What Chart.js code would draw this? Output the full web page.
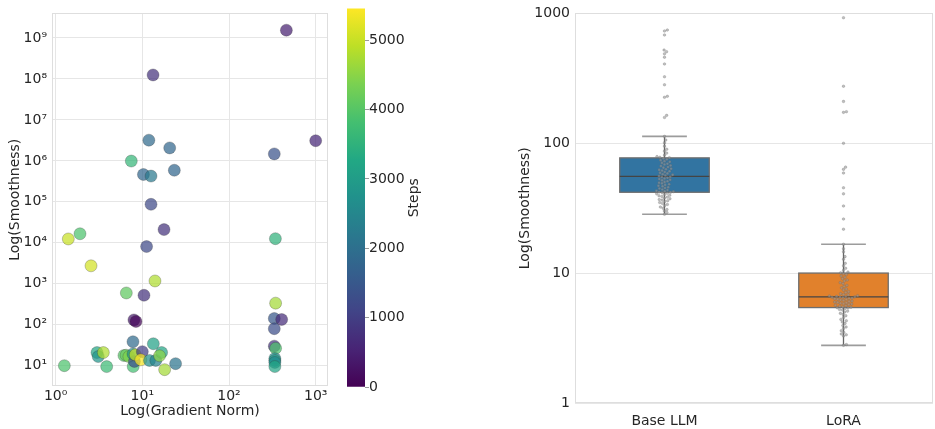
<!DOCTYPE html>
<html lang="en">
<head>
<meta charset="UTF-8">
<title>Smoothness vs gradient norm</title>
<script src="https://cdn.jsdelivr.net/npm/chart.js@4.4.1/dist/chart.umd.min.js"></script>
<style>
    body {
        margin: 0;
        background: #fff;
        width: 935px;
        height: 429px;
        overflow: hidden;
        position: relative;
    }
    canvas {
        position: absolute;
        top: 0;
    }
</style>
</head>
<body>
<canvas id="scatterChart" width="340" height="429" style="left:0px"></canvas>
<canvas id="colorbarChart" width="110" height="429" style="left:330px"></canvas>
<canvas id="boxChart" width="435" height="429" style="left:500px"></canvas>

<script>
    // scatter: gradient norm vs smoothness, coloured by training step
    const gradNorm = [459, 13.3, 1000, 11.9, 20.7, 333, 7.46, 10.3, 12.6, 23.4,
        12.6, 17.8, 1.40, 1.91, 11.2, 343, 2.56, 14.0, 6.54, 10.45,
        345, 333, 405, 333, 8.0, 8.45, 333, 345, 338, 338,
        338, 338, 1.26, 3.0, 3.1, 3.55, 3.88, 6.14, 6.5, 7.0,
        7.8, 7.85, 8.1, 7.8, 8.3, 10.0, 9.6, 12.1, 13.4, 14.3,
        16.7, 15.8, 18.1, 24.2];
    const smoothness = [1.55e9, 1.25e8, 3.1e6, 3.2e6, 2.07e6, 1.48e6, 9.9e5, 4.65e5, 4.25e5, 5.9e5,
        8.7e4, 2.1e4, 1.24e4, 1.66e4, 8.1e3, 1.26e4, 2.74e3, 1.17e3, 596, 524,
        336, 142, 134, 80, 131, 120, 30, 26.6, 15, 13.4,
        12, 9.5, 10, 20.9, 16.7, 20.9, 9.5, 17.7, 18, 16.7,
        38.4, 9.5, 12.7, 19.4, 18.4, 22, 13.9, 13.4, 34.3, 13.4,
        21, 17.4, 8.0, 11.2];
    const steps = [500, 800, 600, 1900, 1800, 1400, 3600, 1800, 2200, 1800,
        1200, 800, 5000, 3900, 1200, 3500, 5100, 4800, 4100, 800,
        4700, 1500, 700, 1300, 400, 100, 800, 3900, 2700, 2900,
        2600, 3200, 3900, 3200, 2800, 4800, 3700, 4000, 4200, 4400,
        1900, 3800, 1300, 2700, 5000, 1000, 5400, 2700, 3100, 2400,
        3200, 4500, 4700, 2100];
    const stepsMax = 5460;

    const gradTicks = [1, 10, 100, 1000];
    const smoothTicks = [10, 1e2, 1e3, 1e4, 1e5, 1e6, 1e7, 1e8, 1e9];
    const stepTicks = [0, 1000, 2000, 3000, 4000, 5000];

    // box + swarm: smoothness per model
    const groupLabels = ['Base LLM', 'LoRA'];
    const baseLLM = [745, 732, 682, 522, 507, 488, 460, 408, 325, 282, 230, 226, 164, 158,
        113, 106, 101, 95, 90, 87, 84, 81, 79, 78, 77.4,
        76.5, 75.2, 74.1, 72.8, 71.9, 70.6, 69.5, 68.7, 67.4, 66.8, 65.6, 64.9, 63.7, 63.1, 62.4,
        61.6, 60.9, 60.1, 59.2, 58.6, 57.8, 57.1, 56.4, 55.9, 55.3,
        54.9, 54.2, 53.6, 53.0, 52.3, 51.8, 51.0, 50.4, 49.7, 49.1, 48.3, 47.8, 47.1, 46.6, 45.9,
        45.2, 44.8, 44.1, 43.6, 43.1, 42.7, 42.4, 42.1, 41.9, 41.6,
        41.2, 40.8, 40.3, 39.8, 39.4, 38.9, 38.5, 37.9, 37.4, 36.9, 36.5, 36.1, 35.6, 35.0, 34.4,
        33.8, 33.1, 32.3, 31.6, 30.9, 30.1, 29.3, 28.4];
    const loRA = [926, 275, 210, 175, 173, 100, 65.5, 63, 59, 45.4, 40.8, 32.9, 26.1, 21.8,
        16.7, 15.4, 14.6, 13.4, 12.8, 11.9, 11.4, 10.9, 10.5, 10.2, 10.05,
        9.9, 9.75, 9.5, 9.3, 9.05, 8.85, 8.7, 8.45, 8.3, 8.05, 7.9, 7.7, 7.55, 7.4, 7.2,
        7.1, 6.95, 6.85, 6.8, 6.7, 6.66, 6.62, 6.6, 6.57, 6.55,
        6.52, 6.48, 6.44, 6.4, 6.35, 6.3, 6.26, 6.2, 6.15, 6.1, 6.05, 6.0, 5.95, 5.92, 5.86,
        5.82, 5.78, 5.72, 5.66, 5.61, 5.56, 5.5, 5.46, 5.42, 5.39,
        5.33, 5.25, 5.2, 5.1, 5.02, 4.9, 4.8, 4.7, 4.55, 4.4, 4.3, 4.2, 4.1, 3.95, 3.85,
        3.75, 3.6, 3.5, 3.4, 3.35, 3.28, 2.82, 2.78];
    const boxTicks = [1, 10, 100, 1000];
    const boxColors = ['#3274a1', '#e1812c'];

    const TEXT = '#262626';
    const GRID = '#e6e6e6';
    Chart.defaults.font.family = '"DejaVu Sans", sans-serif';
    Chart.defaults.font.size = 14;
    Chart.defaults.color = TEXT;

    const viridisStops = ['#440154', '#482475', '#414487', '#355f8d', '#2a788e', '#21918c',
        '#22a884', '#44bf70', '#7ad151', '#bddf26', '#fde725'];

    function hexRgb(h) {
        return [1, 3, 5].map(i => parseInt(h.substr(i, 2), 16));
    }

    function viridis(t, alpha) {
        t = Math.min(1, Math.max(0, t)) * (viridisStops.length - 1);
        const i = Math.min(Math.floor(t), viridisStops.length - 2);
        const f = t - i;
        const a = hexRgb(viridisStops[i]), b = hexRgb(viridisStops[i + 1]);
        const c = a.map((v, k) => Math.round(v + (b[k] - v) * f));
        return `rgba(${c[0]},${c[1]},${c[2]},${alpha})`;
    }

    const supDigits = { '0': '⁰', '1': '¹', '2': '²', '3': '³', '4': '⁴', '5': '⁵', '6': '⁶', '7': '⁷', '8': '⁸', '9': '⁹', '-': '⁻' };
    function powLabel(v) {
        const e = Math.round(Math.log10(v));
        return '10' + String(e).split('').map(c => supDigits[c]).join('');
    }

    // light frame round the plot area, like the seaborn spines
    const framePlugin = {
        id: 'frame',
        afterDatasetsDraw(chart) {
            const a = chart.chartArea;
            const ctx = chart.ctx;
            ctx.save();
            ctx.strokeStyle = '#dedede';
            ctx.lineWidth = 1;
            ctx.strokeRect(Math.round(a.left) + 0.5, Math.round(a.top) + 0.5,
                Math.round(a.right - a.left) - 1, Math.round(a.bottom - a.top) - 1);
            ctx.restore();
        }
    };

    // scatter chart
    new Chart(document.getElementById('scatterChart'), {
        type: 'scatter',
        data: {
            datasets: [{
                data: gradNorm.map((g, i) => ({ x: g, y: smoothness[i] })),
                backgroundColor: steps.map(s => viridis(s / stepsMax, 0.72)),
                borderColor: 'rgba(50,50,50,0.45)',
                borderWidth: 0.6,
                pointRadius: 6,
                pointHoverRadius: 6
            }]
        },
        options: {
            responsive: false,
            animation: false,
            layout: { padding: { left: 0, right: 12, top: 7, bottom: 0 } },
            plugins: { legend: { display: false }, tooltip: { enabled: false } },
            scales: {
                x: {
                    type: 'logarithmic',
                    min: 0.908,
                    max: 1387,
                    afterBuildTicks: s => { s.ticks = gradTicks.map(v => ({ value: v })); },
                    afterFit: s => { s.height = 43; },
                    ticks: { callback: v => powLabel(v), padding: 2, maxRotation: 0, autoSkip: false },
                    grid: { color: GRID, drawTicks: false },
                    border: { display: false },
                    title: { display: true, text: 'Log(Gradient Norm)', padding: { top: 0, bottom: 9 } }
                },
                y: {
                    type: 'logarithmic',
                    min: 3.19,
                    max: 3.98e9,
                    afterBuildTicks: s => { s.ticks = smoothTicks.map(v => ({ value: v })); },
                    afterFit: s => { s.width = 52; },
                    ticks: { callback: v => powLabel(v), padding: 5, autoSkip: false },
                    grid: { color: GRID, drawTicks: false },
                    border: { display: false },
                    title: { display: true, text: 'Log(Smoothness)', padding: { top: 7, bottom: 0 } }
                }
            }
        },
        plugins: [framePlugin]
    });

    // colorbar
    const stepsTitle = {
        id: 'stepsTitle',
        afterDraw(chart) {
            const a = chart.chartArea;
            const ctx = chart.ctx;
            ctx.save();
            ctx.translate(84, (a.top + a.bottom) / 2);
            ctx.rotate(-Math.PI / 2);
            ctx.textAlign = 'center';
            ctx.textBaseline = 'middle';
            ctx.fillStyle = TEXT;
            ctx.font = '14px "DejaVu Sans", sans-serif';
            ctx.fillText('Steps', 0, 0);
            ctx.restore();
        }
    };

    new Chart(document.getElementById('colorbarChart'), {
        type: 'bar',
        data: {
            labels: ['Steps'],
            datasets: [{
                data: [[0, stepsMax]],
                backgroundColor: c => {
                    const chart = c.chart;
                    if (!chart.chartArea) return viridis(0.5, 1);
                    const y = chart.scales.y;
                    const g = chart.ctx.createLinearGradient(0, y.getPixelForValue(0), 0, y.getPixelForValue(stepsMax));
                    viridisStops.forEach((col, i) => g.addColorStop(i / (viridisStops.length - 1), col));
                    return g;
                },
                borderWidth: 0,
                barPercentage: 1,
                categoryPercentage: 1
            }]
        },
        options: {
            responsive: false,
            animation: false,
            layout: { padding: { left: 17, right: 0, top: 7, bottom: 42 } },
            plugins: { legend: { display: false }, tooltip: { enabled: false } },
            scales: {
                x: { display: false },
                y: {
                    position: 'right',
                    min: 0,
                    max: stepsMax,
                    afterBuildTicks: s => { s.ticks = stepTicks.map(v => ({ value: v })); },
                    afterFit: s => { s.width = 75; },
                    ticks: { callback: v => String(v), padding: 0, autoSkip: false },
                    grid: { drawOnChartArea: false, drawTicks: true, tickLength: 4, color: '#9a9a9a' },
                    border: { display: false }
                }
            }
        },
        plugins: [stepsTitle]
    });

    // box plot
    function quantile(sorted, q) {
        const pos = (sorted.length - 1) * q;
        const lo = Math.floor(pos), hi = Math.ceil(pos);
        return sorted[lo] + (sorted[hi] - sorted[lo]) * (pos - lo);
    }

    function boxStats(values) {
        const s = [...values].sort((a, b) => a - b);
        const q1 = quantile(s, 0.25), med = quantile(s, 0.5), q3 = quantile(s, 0.75);
        const iqr = q3 - q1;
        const inside = s.filter(v => v >= q1 - 1.5 * iqr && v <= q3 + 1.5 * iqr);
        return { q1, med, q3, lo: inside[0], hi: inside[inside.length - 1] };
    }

    const groups = [baseLLM, loRA];

    const boxPlugin = {
        id: 'boxes',
        beforeDatasetsDraw(chart) {
            const x = chart.scales.x, y = chart.scales.y, ctx = chart.ctx;
            ctx.save();
            groups.forEach((vals, i) => {
                const st = boxStats(vals);
                const xl = x.getPixelForValue(i - 0.25), xr = x.getPixelForValue(i + 0.25);
                const cx = x.getPixelForValue(i);
                const cl = x.getPixelForValue(i - 0.125), cr = x.getPixelForValue(i + 0.125);
                const yq1 = y.getPixelForValue(st.q1), yq3 = y.getPixelForValue(st.q3);
                const ymed = y.getPixelForValue(st.med);
                const ylo = y.getPixelForValue(st.lo), yhi = y.getPixelForValue(st.hi);

                ctx.fillStyle = boxColors[i];
                ctx.fillRect(xl, yq3, xr - xl, yq1 - yq3);
                ctx.strokeStyle = '#6e6e6e';
                ctx.lineWidth = 1.3;
                ctx.strokeRect(xl, yq3, xr - xl, yq1 - yq3);

                ctx.beginPath();
                ctx.moveTo(cx, yq3); ctx.lineTo(cx, yhi);
                ctx.moveTo(cx, yq1); ctx.lineTo(cx, ylo);
                ctx.strokeStyle = '#666';
                ctx.lineWidth = 1.3;
                ctx.stroke();

                ctx.beginPath();
                ctx.moveTo(cl, yhi); ctx.lineTo(cr, yhi);
                ctx.moveTo(cl, ylo); ctx.lineTo(cr, ylo);
                ctx.strokeStyle = '#9c9c9c';
                ctx.lineWidth = 1.6;
                ctx.stroke();

                ctx.beginPath();
                ctx.moveTo(xl, ymed); ctx.lineTo(xr, ymed);
                ctx.strokeStyle = '#444';
                ctx.lineWidth = 1.2;
                ctx.stroke();
            });
            ctx.restore();
        }
    };

    const boxChart = new Chart(document.getElementById('boxChart'), {
        type: 'scatter',
        data: {
            datasets: groups.map((vals, i) => ({
                data: vals.map(v => ({ x: i, y: v })),
                backgroundColor: 'rgba(150,150,150,0.6)',
                borderColor: 'rgba(100,100,100,0.5)',
                borderWidth: 0.5,
                pointRadius: 1.3,
                pointHoverRadius: 1.3
            }))
        },
        options: {
            responsive: false,
            animation: false,
            layout: { padding: { left: 0, right: 2, top: 12, bottom: 0 } },
            plugins: { legend: { display: false }, tooltip: { enabled: false } },
            scales: {
                x: {
                    type: 'linear',
                    min: -0.5,
                    max: 1.5,
                    afterBuildTicks: s => { s.ticks = groupLabels.map((l, i) => ({ value: i })); },
                    afterFit: s => { s.height = 26; },
                    ticks: { callback: v => groupLabels[v], padding: 2, maxRotation: 0, autoSkip: false },
                    grid: { display: false },
                    border: { display: false }
                },
                y: {
                    type: 'logarithmic',
                    min: 1,
                    max: 1000,
                    afterBuildTicks: s => { s.ticks = boxTicks.map(v => ({ value: v })); },
                    afterFit: s => { s.width = 75; },
                    ticks: { callback: v => String(v), padding: 5, autoSkip: false },
                    grid: { color: GRID, drawTicks: false },
                    border: { display: false },
                    title: { display: true, text: 'Log(Smoothness)', padding: { top: 17, bottom: 0 } }
                }
            }
        },
        plugins: [boxPlugin, framePlugin]
    });

    // spread the points sideways into a swarm, using the real pixel scale
    function beeswarm(pys, d) {
        const placed = [];
        return pys.map(py => {
            const near = placed.filter(p => Math.abs(p.y - py) < d);
            const cands = [0];
            near.forEach(p => {
                const dx = Math.sqrt(d * d - (p.y - py) * (p.y - py));
                cands.push(p.x + dx, p.x - dx);
            });
            cands.sort((a, b) => Math.abs(a) - Math.abs(b));
            const x = cands.find(c => near.every(p => (p.x - c) * (p.x - c) + (p.y - py) * (p.y - py) >= d * d - 0.01));
            placed.push({ x, y: py });
            return x;
        });
    }

    const xs = boxChart.scales.x, ys = boxChart.scales.y;
    const unitPx = xs.getPixelForValue(1) - xs.getPixelForValue(0);
    groups.forEach((vals, i) => {
        const order = vals.map((v, k) => k).sort((a, b) => vals[a] - vals[b]);
        const offs = beeswarm(order.map(k => ys.getPixelForValue(vals[k])), 3.0);
        const ds = boxChart.data.datasets[i].data;
        order.forEach((k, j) => { ds[k].x = i + offs[j] / unitPx; });
    });
    boxChart.update('none');
</script>
</body>
</html>
